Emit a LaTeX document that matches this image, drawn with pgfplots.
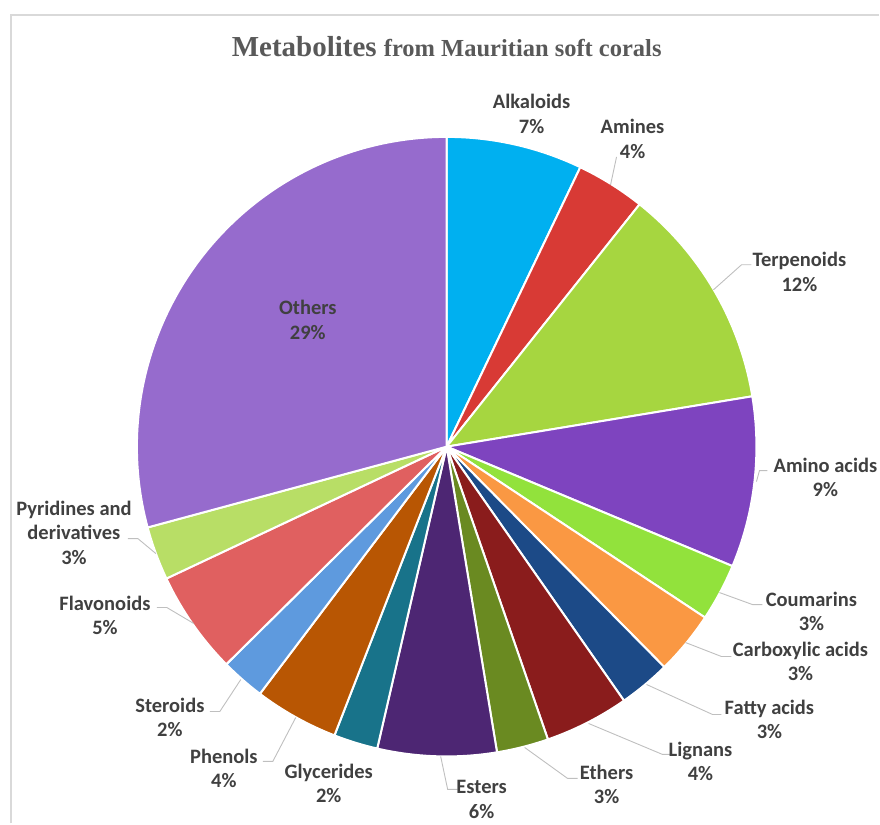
\documentclass[border=0pt]{standalone}
\usepackage{pgfplots}
\usepackage{pgfplotstable}
\pgfplotsset{compat=1.18}
\usepackage{fontspec}
\setmainfont{Carlito}
\newfontfamily\lf{Carlito}
\newfontfamily\tf{Liberation Serif}
\definecolor{cAlk}{HTML}{00B0F0}
\definecolor{cAmi}{HTML}{D83A35}
\definecolor{cTer}{HTML}{A6D640}
\definecolor{cAmA}{HTML}{7E44BF}
\definecolor{cCou}{HTML}{92E23C}
\definecolor{cCar}{HTML}{FA9843}
\definecolor{cFat}{HTML}{1C4A87}
\definecolor{cLig}{HTML}{8A1C1C}
\definecolor{cEth}{HTML}{6A8A21}
\definecolor{cEst}{HTML}{4D2673}
\definecolor{cGly}{HTML}{18738A}
\definecolor{cPhe}{HTML}{B85603}
\definecolor{cSte}{HTML}{5E9ADE}
\definecolor{cFla}{HTML}{E06060}
\definecolor{cPyr}{HTML}{B8DE66}
\definecolor{cOth}{HTML}{966BCD}
\definecolor{labelgray}{HTML}{404040}
\definecolor{titlegray}{HTML}{595959}
\definecolor{leadergray}{HTML}{BFBFBF}
\definecolor{bordergray}{HTML}{D9D9D9}
\pgfplotstableread{
name value col
Alkaloids 7.1 cAlk
Amines 3.6 cAmi
Terpenoids 11.7 cTer
AminoAcids 8.9 cAmA
Coumarins 3.0 cCou
CarboxylicAcids 3.3 cCar
FattyAcids 2.7 cFat
Lignans 4.4 cLig
Ethers 2.7 cEth
Esters 6.2 cEst
Glycerides 2.3 cGly
Phenols 4.4 cPhe
Steroids 2.3 cSte
Flavonoids 5.4 cFla
Pyridines 2.8 cPyr
Others 29.2 cOth
}\pies
\tikzset{lab/.style={align=center, inner sep=0pt, text=labelgray, font=\lf\bfseries\fontsize{20.5}{24.5}\selectfont}}
\begin{document}
\begin{tikzpicture}
\begin{axis}[
  x=1pt, y=1pt, xmin=0, xmax=880, ymin=0, ymax=824,
  hide axis, clip=false,
  leader/.style={leadergray, line width=0.9pt, no marks},
]
\path (axis cs:0,0) rectangle (axis cs:880,824);
\draw[bordergray, line width=1.3pt] (axis cs:11,0) -- (axis cs:11,809) -- (axis cs:880,809);
\pgfplotstablegetrowsof{\pies}\let\nrows\pgfplotsretval
\def\cum{0}
\pgfplotsforeachungrouped \i in {0,...,15}{%
  \pgfplotstablegetelem{\i}{value}\of\pies \let\v\pgfplotsretval
  \pgfplotstablegetelem{\i}{col}\of\pies \let\c\pgfplotsretval
  \pgfmathsetmacro\aa{90-3.6*\cum}%
  \pgfmathsetmacro\bb{90-3.6*(\cum+\v)}%
  \edef\tmp{\noexpand\fill[\c, draw=white, line width=2pt, line join=round] (axis cs:447,377) -- ++(\aa:310pt) arc[start angle=\aa, end angle=\bb, radius=310pt] -- cycle;}%
  \tmp
  \pgfmathsetmacro\cum{\cum+\v}%
}
% leader lines
\addplot[leader] coordinates {(611,639) (617,667)};
\addplot[leader] coordinates {(714,534) (742,559) (752,559)};
\addplot[leader] coordinates {(757,342) (760,353) (768,353)};
\addplot[leader] coordinates {(720,231) (753,219) (763,219)};
\addplot[leader] coordinates {(686,181) (722,167) (732,167)};
\addplot[leader] coordinates {(647,139) (713,109) (722,109)};
\addplot[leader] coordinates {(589,100) (663,69) (673,69)};
\addplot[leader] coordinates {(525,76) (568,45) (578,45)};
\addplot[leader] coordinates {(441,67) (448,34) (458,34)};
\addplot[leader] coordinates {(296,106) (273,62) (263,62)};
\addplot[leader] coordinates {(241,144) (220,112) (210,112)};
\addplot[leader] coordinates {(194,200) (167,216) (157,216)};
\addplot[leader] coordinates {(156,270) (138,285) (128,285)};
% labels
\node[lab] at (axis cs:532,710) {Alkaloids\\7\%};
\node[lab] at (axis cs:633,685) {Amines\\4\%};
\node[lab] at (axis cs:800,552) {Terpenoids\\12\%};
\node[lab] at (axis cs:826,346) {Amino acids\\9\%};
\node[lab] at (axis cs:812,212) {Coumarins\\3\%};
\node[lab] at (axis cs:801,162) {Carboxylic acids\\3\%};
\node[lab] at (axis cs:770,104) {Fatty acids\\3\%};
\node[lab] at (axis cs:701,62) {Lignans\\4\%};
\node[lab] at (axis cs:607,39) {Ethers\\3\%};
\node[lab] at (axis cs:482,24) {Esters\\6\%};
\node[lab] at (axis cs:329,40) {Glycerides\\2\%};
\node[lab] at (axis cs:224,55) {Phenols\\4\%};
\node[lab] at (axis cs:170,106) {Steroids\\2\%};
\node[lab] at (axis cs:105,208) {Flavonoids\\5\%};
\node[lab] at (axis cs:74,291) {Pyridines and\\derivatives\\3\%};
\node[lab] at (axis cs:308,504) {Others\\29\%};
\node[anchor=base, inner sep=0pt, text=titlegray, font=\tf\bfseries] at (axis cs:447,767)
  {\fontsize{29}{34}\selectfont Metabolites \fontsize{24.5}{29}\selectfont from Mauritian soft corals};
\end{axis}
\end{tikzpicture}
\end{document}
